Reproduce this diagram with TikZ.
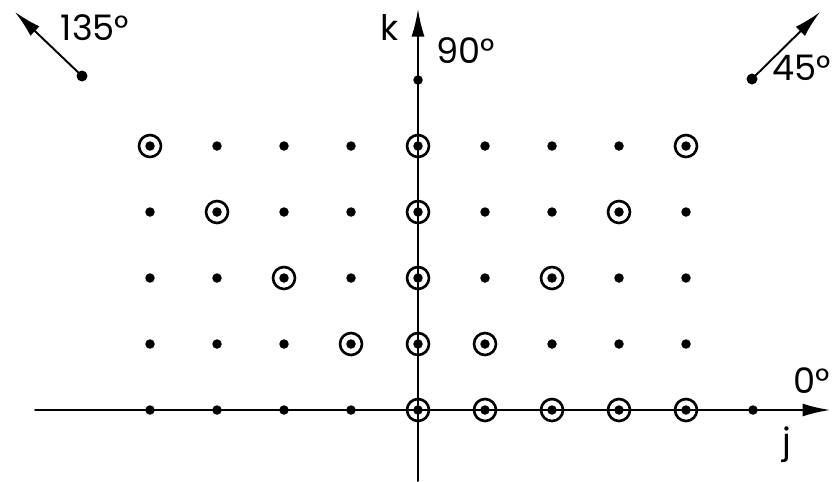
\documentclass[tikz,border=0pt]{standalone}
\usepackage{fontspec}
\setmainfont{Poppins}
\usetikzlibrary{arrows.meta}

\tikzset{
  dotpt/.style={circle,fill=black,inner sep=0pt,minimum size=0.19cm},
  ring/.style={circle,draw=black,line width=1.5pt,inner sep=0pt,minimum size=0.44cm},
  axis/.style={line width=1.1pt,-{Latex[length=0.55cm,width=0.26cm]}},
  lbl/.style={anchor=base,font=\fontsize{20}{24}\selectfont}
}

\begin{document}
\begin{tikzpicture}[x=0.02cm,y=-0.02cm,line cap=round,line join=round]
            \useasboundingbox (0,0) rectangle (838,481);

            % axes
            \coordinate (jfrom) at (35,410);
            \coordinate (jto) at (830,410);
            \coordinate (kfrom) at (418,481);
            \coordinate (kto) at (418,9);
            \draw[axis] (jfrom) -- (jto);
            \draw[axis] (kfrom) -- (kto);

            % lattice points
            \foreach \i in {-4,...,4}
              \foreach \j in {0,...,4}
                \node[dotpt] at ({418+67*\i},{410-66*\j}) {};
            \node[dotpt] (jfive) at (753,410) {};
            \node[dotpt] (kfive) at (418,80) {};

            % selected points
            \foreach \i/\j in {0/0,1/0,2/0,3/0,4/0,
                               -1/1,0/1,1/1,
                               -2/2,0/2,2/2,
                               -3/3,0/3,3/3,
                               -4/4,0/4,4/4}
              \node[ring] at ({418+67*\i},{410-66*\j}) {};

            % direction arrows
            \node[dotpt,minimum size=0.22cm] (dlft) at (82,76) {};
            \coordinate (tlft) at (15,12);
            \draw[axis] (dlft.center) -- (tlft);
            \node[dotpt,minimum size=0.22cm] (drgt) at (752,79) {};
            \coordinate (trgt) at (820,12);
            \draw[axis] (drgt.center) -- (trgt);

            % labels
            \node[lbl] (l135) at (95,40) {135°};
            \node[lbl] (l90) at (466,63) {90°};
            \node[lbl] (lk) at (390,40) {k};
            \node[lbl,anchor=base east] (l45) at (837,80) {45°};
            \node[lbl] (l0) at (812,393) {0°};
            \node[lbl] (lj) at (787,453) {j};
        \end{tikzpicture}
\end{document}
